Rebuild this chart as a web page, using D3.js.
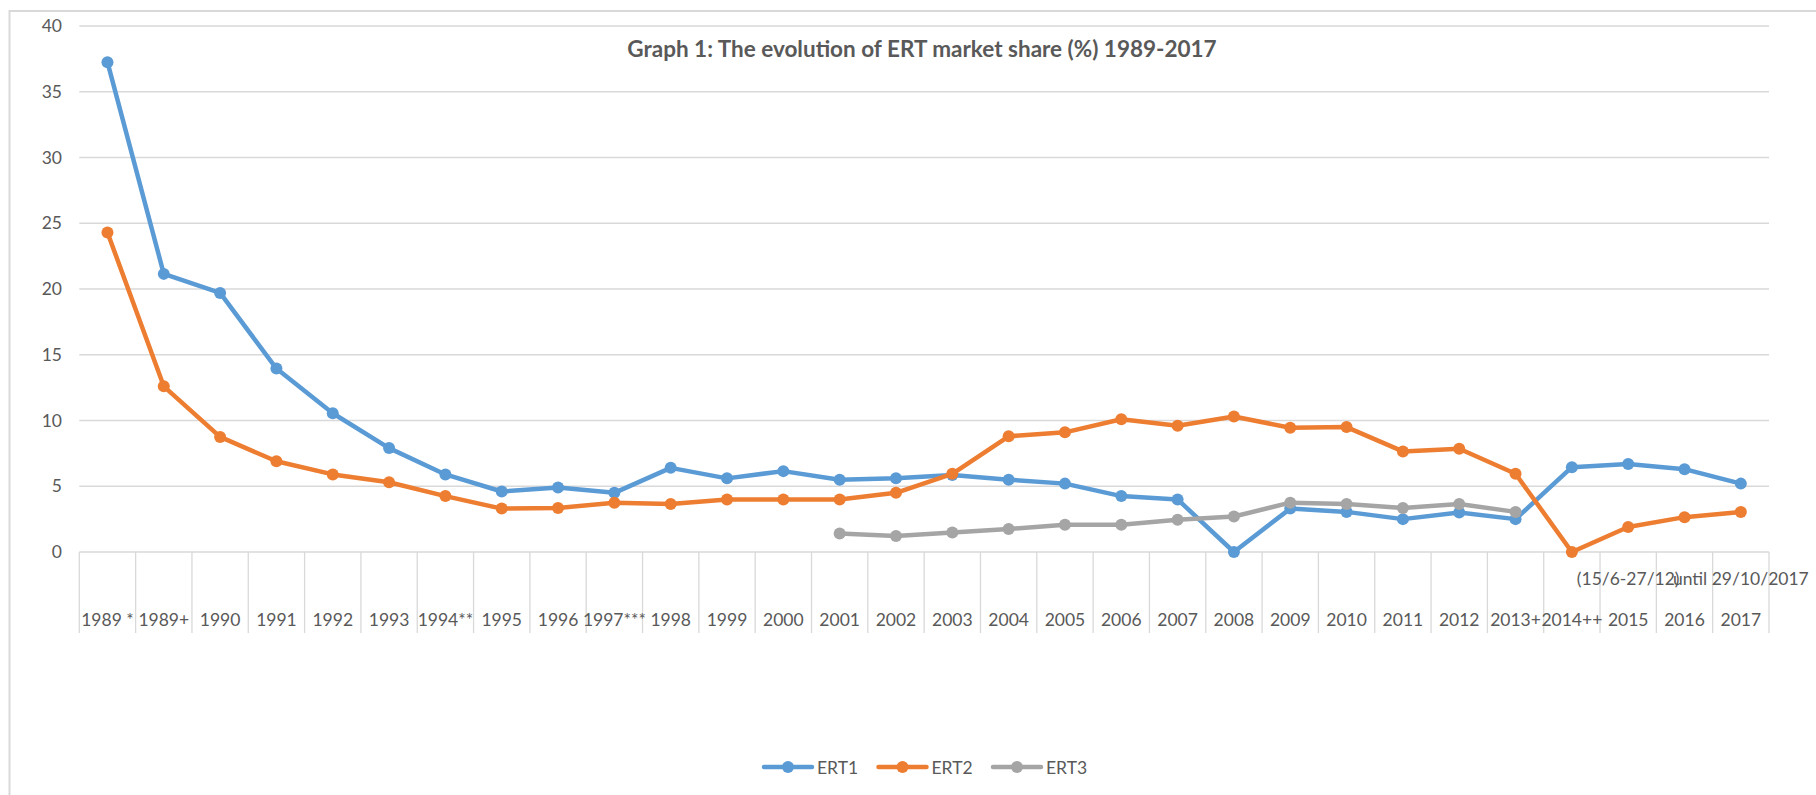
<!doctype html>
<html lang="en">
<head>
	<meta http-equiv="Content-type" content="text/html" charset="UTF-8">
	<title>ERT market share</title>

	<!-- D3 -->
	<script src="https://d3js.org/d3.v7.min.js"></script>

	<style>
		body {
			margin: 0;
			padding: 0;
			background: #fff;
			font-family: Lato, "Open Sans", sans-serif;
		}

		svg text {
			fill: #595959;
		}

		.grid line {
			stroke: #d9d9d9;
			stroke-width: 1.3;
		}
	</style>
</head>
<body>
	<div id="canvas"></div>

	<script>
		// Data
		const categories = ['1989 *', '1989+', '1990', '1991', '1992', '1993', '1994**', '1995', '1996', '1997***',
			'1998', '1999', '2000', '2001', '2002', '2003', '2004', '2005', '2006', '2007',
			'2008', '2009', '2010', '2011', '2012', '2013+', '2014++', '2015', '2016', '2017'];

		const ert1 = [37.25, 21.15, 19.7, 13.95, 10.55, 7.9, 5.9, 4.6, 4.9, 4.5,
			6.4, 5.6, 6.15, 5.5, 5.6, 5.85, 5.5, 5.2, 4.25, 4.0,
			0, 3.3, 3.05, 2.5, 3.0, 2.5, 6.45, 6.7, 6.3, 5.2];

		const ert2 = [24.3, 12.6, 8.75, 6.9, 5.9, 5.3, 4.25, 3.3, 3.35, 3.75,
			3.65, 4.0, 4.0, 4.0, 4.5, 5.95, 8.8, 9.1, 10.1, 9.6,
			10.3, 9.45, 9.5, 7.65, 7.85, 5.95, 0, 1.9, 2.65, 3.05];

		const ert3 = [null, null, null, null, null, null, null, null, null, null,
			null, null, null, 1.4, 1.22, 1.48, 1.75, 2.08, 2.08, 2.45,
			2.7, 3.75, 3.65, 3.35, 3.65, 3.05, null, null, null, null];

		const seriesNames = ['ERT1', 'ERT2', 'ERT3'];
		const yTicks = [0, 5, 10, 15, 20, 25, 30, 35, 40];

		// extra label lines above some years
		const noteCategories = ['2015', '2017'];
		const noteLabels = ['(15/6-27/12)', 'until 29/10/2017'];

		const title = 'Graph 1: The evolution of ERT market share (%) 1989-2017';

		// Sizes
		const width = 1816;
		const height = 795;
		const plotLeft = 79.3;
		const plotRight = 1769;
		const plotTop = 26;
		const plotBottom = 552;
		const fontSize = 17.5;
		const markerR = 6;

		const colors = d3.scaleOrdinal()
			.domain(seriesNames)
			.range(['#5b9bd5', '#ed7d31', '#a5a5a5']);

		const x = d3.scaleBand()
			.domain(categories)
			.range([plotLeft, plotRight]);

		const y = d3.scaleLinear()
			.domain([0, 40])
			.range([plotBottom, plotTop]);

		const svg = d3.select('#canvas')
			.append('svg')
			.attr('width', width)
			.attr('height', height);

		// Chart border (runs off the right and bottom)
		svg.append('rect')
			.attr('x', 9.5)
			.attr('y', 11)
			.attr('width', 2000)
			.attr('height', 1000)
			.attr('fill', 'none')
			.attr('stroke', '#d9d9d9')
			.attr('stroke-width', 2);

		// Title
		svg.append('text')
			.attr('x', 922)
			.attr('y', 57)
			.attr('text-anchor', 'middle')
			.attr('font-size', 22.5)
			.attr('font-weight', 'bold')
			.text(title);

		// Horizontal gridlines
		svg.append('g')
			.attr('class', 'grid')
			.selectAll('line')
			.data(yTicks)
			.enter().append('line')
			.attr('x1', plotLeft)
			.attr('x2', plotRight)
			.attr('y1', (d) => y(d))
			.attr('y2', (d) => y(d));

		// Y tick labels
		svg.append('g')
			.selectAll('text')
			.data(yTicks)
			.enter().append('text')
			.attr('x', 62)
			.attr('y', (d) => y(d))
			.attr('dy', '.35em')
			.attr('text-anchor', 'end')
			.attr('font-size', fontSize)
			.text((d) => d);

		// Category separators below the axis
		const bounds = categories.map((c) => x(c)).concat([x.range()[1]]);
		svg.append('g')
			.attr('class', 'grid')
			.selectAll('line')
			.data(bounds)
			.enter().append('line')
			.attr('x1', (d) => d)
			.attr('x2', (d) => d)
			.attr('y1', plotBottom)
			.attr('y2', 633);

		// Category labels
		svg.append('g')
			.selectAll('text')
			.data(categories)
			.enter().append('text')
			.attr('x', (d) => x(d) + x.bandwidth() / 2)
			.attr('y', 626)
			.attr('text-anchor', 'middle')
			.attr('font-size', fontSize)
			.text((d) => d);

		svg.append('g')
			.selectAll('text')
			.data(noteCategories)
			.enter().append('text')
			.attr('x', (d) => x(d) + x.bandwidth() / 2)
			.attr('y', 585)
			.attr('text-anchor', 'middle')
			.attr('font-size', fontSize)
			.text((d, i) => noteLabels[i]);

		// Lines
		const seriesData = [ert1, ert2, ert3];

		const line = d3.line()
			.defined((d) => d != null)
			.x((d, i) => x(categories[i]) + x.bandwidth() / 2)
			.y((d) => y(d));

		seriesData.forEach((values, s) => {
			const g = svg.append('g');

			g.append('path')
				.datum(values)
				.attr('d', line)
				.attr('fill', 'none')
				.attr('stroke', colors(seriesNames[s]))
				.attr('stroke-width', 4.5)
				.attr('stroke-linejoin', 'round')
				.attr('stroke-linecap', 'round');

			g.selectAll('circle')
				.data(values.map((v, i) => ({ cat: categories[i], value: v })).filter((d) => d.value != null))
				.enter().append('circle')
				.attr('cx', (d) => x(d.cat) + x.bandwidth() / 2)
				.attr('cy', (d) => y(d.value))
				.attr('r', markerR)
				.attr('fill', colors(seriesNames[s]));
		});

		// Legend
		const legSpace = 114.5;
		const legLine = 48;

		const legend = svg.append('g')
			.attr('transform', 'translate(764, 767)')
			.selectAll('.legend')
			.data(seriesNames)
			.enter().append('g')
			.attr('class', 'legend')
			.attr('transform', (d, i) => 'translate(' + (i * legSpace) + ', 0)');

		legend.append('line')
			.attr('x1', 0)
			.attr('x2', legLine)
			.attr('stroke', colors)
			.attr('stroke-width', 4.5)
			.attr('stroke-linecap', 'round');

		legend.append('circle')
			.attr('cx', legLine / 2)
			.attr('r', markerR)
			.attr('fill', colors);

		legend.append('text')
			.attr('x', legLine + 5)
			.attr('y', 6.5)
			.attr('font-size', fontSize)
			.text((d) => d);
	</script>
</body>
</html>
